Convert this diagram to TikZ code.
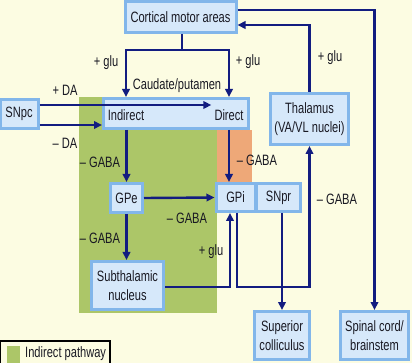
\documentclass[tikz,border=0pt]{standalone}
\usepackage{fontspec}
\setmainfont{Liberation Sans}[FakeStretch=0.74]
\usetikzlibrary{arrows.meta,calc}
\definecolor{bg}{RGB}{252,252,226}
\definecolor{grn}{RGB}{172,198,104}
\definecolor{org}{RGB}{238,168,120}
\definecolor{navy}{RGB}{18,28,128}
\definecolor{bxedge}{RGB}{130,182,234}
\definecolor{bxfill}{RGB}{214,232,250}
\definecolor{txt}{RGB}{25,25,35}
\begin{document}
\begin{tikzpicture}[x=1pt,y=-1pt,
  every node/.style={font=\fontsize{15}{19}\selectfont, text=txt, align=center},
  box/.style={draw=bxedge, line width=3pt, fill=bxfill, inner sep=0pt},
  lbl/.style={inner sep=0pt},
  ln/.style={draw=navy, line width=2.4pt},
  arr/.style={ln, -{Triangle[length=8pt,width=7.5pt]}}]
\useasboundingbox (0,0) rectangle (412,363);
\fill[bg] (0,0) rectangle (412,363);
% shaded regions
\fill[grn] (79,97) rectangle (217,313);
\fill[org] (217,130) rectangle (252,182);
% boxes
\node[box, minimum width=111pt, minimum height=31pt] (cortical) at (180.5,17.5) {Cortical motor areas};
\node[box, minimum width=145pt, minimum height=30pt] (caud) at (176,113.5) {};
\node[lbl] (ind) at (126,115) {Indirect};
\node[lbl] (dir) at (229,115) {Direct};
\node[lbl] (cplbl) at (177,86) {Caudate/putamen};
\node[box, minimum width=38pt, minimum height=29pt] (snpc) at (19,114) {SNpc};
\node[box, minimum width=78pt, minimum height=51pt] (thal) at (309.5,119) {Thalamus\\(VA/VL nuclei)};
\node[box, minimum width=32pt, minimum height=29pt] (gpe) at (126.5,198) {GPe};
\node[box, minimum width=39pt, minimum height=28pt] (gpi) at (235.5,197.5) {GPi};
\node[box, minimum width=44pt, minimum height=28pt] (snpr) at (278.5,197.5) {SNpr};
\node[box, minimum width=72pt, minimum height=48pt] (stn) at (127.5,285.5) {Subthalamic\\nucleus};
\node[box, minimum width=55pt, minimum height=48pt] (sc) at (282,335.5) {Superior\\colliculus};
\node[box, minimum width=68pt, minimum height=48pt] (spinal) at (374.5,335.5) {Spinal cord/\\brainstem};
% connectors
\coordinate (cb) at (182,50);
\draw[ln] (cortical.south -| cb) -- (cb);
\draw[arr] (cb) -| (ind |- caud.north);
\draw[arr] (cb) -| (dir |- caud.north);
\draw[arr] ($(snpc.east)+(0,-9)$) -- ($(dir.west)+(-3,-10)$);
\draw[arr] ($(snpc.east)+(0,11)$) -- ($(snpc.east -| caud.west)+(0,11)$);
\draw[arr] (gpe.north |- caud.south) -- (gpe.north);
\draw[arr] (dir |- caud.south) -- (dir |- gpi.north);
\draw[arr] (gpe.east) -- (gpi.west);
\draw[arr] (gpe.south) -- (gpe.south |- stn.north);
\draw[arr] ($(stn.east)+(0,1.5)$) -| ($(gpi.south)+(-5.5,0)$);
\draw[arr] ($(gpi.south)+(1.5,0)$) -- ++(0,74) -| (thal.south);
\draw[arr] (sc.north |- snpr.south) -- (sc.north);
\draw[arr] (thal.north) |- ($(cortical.east)+(0,7.5)$);
\draw[arr] ($(cortical.east)+(0,-7.5)$) -| (spinal.north);
% labels
\node[lbl] (g1) at (106,63) {+ glu};
\node[lbl] (g2) at (248,62) {+ glu};
\node[lbl] (g3) at (330,58) {+ glu};
\node[lbl] (g4) at (211,252) {+ glu};
\node[lbl] (da1) at (65,90) {+ DA};
\node[lbl] (da2) at (65,143) {– DA};
\node[lbl] (ga1) at (100,162) {– GABA};
\node[lbl] (ga2) at (257,160) {– GABA};
\node[lbl] (ga3) at (187,218) {– GABA};
\node[lbl] (ga4) at (100,238) {– GABA};
\node[lbl] (ga5) at (337,199) {– GABA};
% legend
\draw[black, line width=1.2pt, fill=bg] (0.6,341) rectangle (110,372);
\fill[grn] (7,346) rectangle (20,363);
\node[lbl, anchor=west] (leg) at (25,354) {Indirect pathway};
\end{tikzpicture}
\end{document}
